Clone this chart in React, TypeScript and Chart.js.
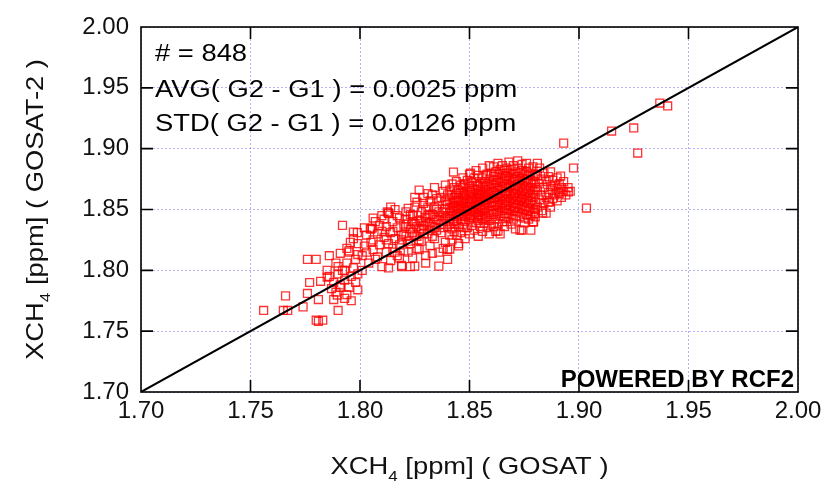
import React, { useEffect, useRef } from "react";
import Chart from "chart.js/auto";

// ---- axis / text content ----
const AXIS_MIN = 1.7;
const AXIS_MAX = 2.0;
const TICK_STEP = 0.05;
const tickValues = [1.75, 1.8, 1.85, 1.9, 1.95];
const statLines = ["# = 848", "AVG( G2 - G1 ) = 0.0025 ppm", "STD( G2 - G1 ) = 0.0126 ppm"];
const creditText = "POWERED BY RCF2";
const xTitleParts = ["XCH", "4", " [ppm] ( GOSAT )"];
const yTitleParts = ["XCH", "4", " [ppm] ( GOSAT-2 )"];
const oneToOneLine = [
  { x: 1.7, y: 1.7 },
  { x: 2.0, y: 2.0 },
];

// ---- matched soundings: [GOSAT, GOSAT-2] XCH4 (ppm) ----
const lowTail: [number, number][] = [
  [1.756, 1.767], [1.765, 1.767], [1.767, 1.767], [1.774, 1.770], [1.766, 1.779], [1.776, 1.781],
  [1.777, 1.790], [1.782, 1.791], [1.776, 1.809], [1.780, 1.809], [1.792, 1.837], [1.780, 1.759],
  [1.783, 1.759], [1.781, 1.758], [1.790, 1.767], [1.781, 1.776], [1.789, 1.806], [1.786, 1.795],
  [1.788, 1.790], [1.790, 1.797], [1.787, 1.785], [1.791, 1.788], [1.793, 1.792], [1.789, 1.782],
  [1.795, 1.786], [1.796, 1.795], [1.792, 1.800], [1.794, 1.780], [1.798, 1.790], [1.797, 1.802],
  [1.799, 1.784], [1.785, 1.800], [1.788, 1.776], [1.793, 1.777], [1.796, 1.775], [1.799, 1.797],
  [1.790, 1.803], [1.794, 1.806], [1.798, 1.809], [1.786, 1.812], [1.791, 1.814], [1.795, 1.816],
  [1.799, 1.813], [1.7956, 1.823], [1.7988, 1.831], [1.797, 1.826], [1.794, 1.818], [1.799, 1.822],
  [1.797, 1.8315], [1.795, 1.815], [1.793, 1.800], [1.7896, 1.7797], [1.791, 1.786], [1.785, 1.7945],
];

const band180: [number, number][] = [
  [1.801, 1.812], [1.802, 1.820], [1.803, 1.829], [1.804, 1.806], [1.805, 1.834], [1.806, 1.817],
  [1.806, 1.825], [1.807, 1.840], [1.808, 1.811], [1.808, 1.830], [1.809, 1.821], [1.810, 1.803],
  [1.810, 1.845], [1.811, 1.827], [1.812, 1.815], [1.812, 1.836], [1.813, 1.847], [1.813, 1.822],
  [1.814, 1.808], [1.814, 1.831], [1.815, 1.840], [1.815, 1.818], [1.816, 1.826], [1.816, 1.850],
  [1.817, 1.812], [1.817, 1.835], [1.818, 1.843], [1.818, 1.821], [1.819, 1.829], [1.819, 1.804],
  [1.820, 1.838], [1.820, 1.816], [1.801, 1.800], [1.803, 1.815], [1.805, 1.823], [1.807, 1.809],
  [1.809, 1.837], [1.811, 1.842], [1.813, 1.802], [1.815, 1.832], [1.817, 1.845], [1.819, 1.825],
  [1.802, 1.835], [1.806, 1.843], [1.810, 1.832], [1.814, 1.852], [1.818, 1.810], [1.820, 1.830],
  [1.812, 1.825], [1.816, 1.815], [1.8056, 1.8348], [1.8125, 1.848], [1.8047, 1.834], [1.813, 1.8471],
];

const band182: [number, number][] = [
  [1.821, 1.828], [1.821, 1.842], [1.822, 1.815], [1.822, 1.851], [1.823, 1.834], [1.823, 1.822],
  [1.824, 1.845], [1.824, 1.810], [1.825, 1.838], [1.825, 1.829], [1.826, 1.856], [1.826, 1.818],
  [1.827, 1.841], [1.827, 1.833], [1.828, 1.848], [1.828, 1.824], [1.829, 1.837], [1.829, 1.860],
  [1.830, 1.812], [1.830, 1.843], [1.831, 1.830], [1.831, 1.852], [1.832, 1.839], [1.832, 1.820],
  [1.833, 1.846], [1.833, 1.862], [1.834, 1.835], [1.834, 1.826], [1.835, 1.850], [1.835, 1.842],
  [1.836, 1.815], [1.836, 1.857], [1.837, 1.838], [1.837, 1.831], [1.838, 1.848], [1.838, 1.865],
  [1.839, 1.843], [1.839, 1.823], [1.840, 1.854], [1.840, 1.836], [1.821, 1.836], [1.822, 1.824],
  [1.823, 1.846], [1.824, 1.831], [1.825, 1.852], [1.826, 1.836], [1.827, 1.825], [1.828, 1.840],
  [1.829, 1.830], [1.830, 1.850], [1.831, 1.838], [1.832, 1.857], [1.833, 1.828], [1.834, 1.844],
  [1.835, 1.833], [1.836, 1.848], [1.837, 1.860], [1.838, 1.840], [1.839, 1.850], [1.840, 1.845],
  [1.822, 1.838], [1.824, 1.840], [1.826, 1.845], [1.828, 1.834], [1.830, 1.840], [1.832, 1.846],
  [1.834, 1.852], [1.836, 1.841], [1.838, 1.835], [1.840, 1.862], [1.823, 1.803], [1.819, 1.803],
  [1.825, 1.8035], [1.836, 1.8035], [1.840, 1.809], [1.830, 1.806], [1.827, 1.817], [1.833, 1.814],
  [1.838, 1.818], [1.840, 1.817], [1.821, 1.848], [1.825, 1.860], [1.829, 1.855], [1.831, 1.845],
  [1.833, 1.836], [1.835, 1.859], [1.837, 1.845], [1.839, 1.857], [1.826, 1.828], [1.832, 1.833],
  [1.827, 1.866], [1.834, 1.868], [1.839, 1.870], [1.831, 1.863],
];

// columns: GOSAT value, then the GOSAT-2 values observed at it
const band184Columns: [number, number[]][] = [
  [1.841, [1.829, 1.842, 1.851, 1.858, 1.866, 1.847, 1.838, 1.8175]],
  [1.842, [1.834, 1.845, 1.855, 1.862, 1.871, 1.849, 1.825]],
  [1.8427, [1.8808, 1.840, 1.853]],
  [1.843, [1.838, 1.852, 1.860, 1.844, 1.868, 1.832, 1.856]],
  [1.844, [1.829, 1.841, 1.848, 1.857, 1.863, 1.873, 1.852]],
  [1.845, [1.836, 1.846, 1.853, 1.860, 1.866, 1.822, 1.850, 1.858, 1.820]],
  [1.846, [1.831, 1.842, 1.851, 1.856, 1.864, 1.870, 1.847]],
  [1.847, [1.838, 1.845, 1.853, 1.861, 1.868, 1.876, 1.857]],
  [1.8475, [1.835, 1.849, 1.863, 1.871]],
  [1.848, [1.826, 1.840, 1.849, 1.855, 1.862, 1.871, 1.844, 1.859]],
  [1.849, [1.835, 1.846, 1.852, 1.858, 1.866, 1.874, 1.850]],
  [1.850, [1.830, 1.842, 1.848, 1.856, 1.861, 1.869, 1.879, 1.853]],
  [1.8505, [1.880, 1.845, 1.864]],
  [1.851, [1.837, 1.845, 1.852, 1.859, 1.864, 1.872, 1.856]],
  [1.852, [1.833, 1.843, 1.850, 1.857, 1.862, 1.867, 1.876, 1.847]],
  [1.853, [1.839, 1.848, 1.854, 1.860, 1.866, 1.873, 1.882, 1.858]],
  [1.8535, [1.844, 1.862, 1.870]],
  [1.854, [1.828, 1.841, 1.851, 1.856, 1.863, 1.869, 1.878, 1.846]],
  [1.855, [1.836, 1.845, 1.853, 1.859, 1.865, 1.871, 1.861, 1.850]],
  [1.856, [1.832, 1.842, 1.849, 1.857, 1.862, 1.868, 1.876, 1.884]],
  [1.857, [1.839, 1.847, 1.854, 1.860, 1.866, 1.873, 1.851, 1.858]],
  [1.8575, [1.843, 1.856, 1.869, 1.878]],
  [1.858, [1.835, 1.844, 1.852, 1.858, 1.864, 1.870, 1.879, 1.861]],
  [1.859, [1.830, 1.841, 1.849, 1.855, 1.862, 1.867, 1.875, 1.886]],
  [1.860, [1.838, 1.846, 1.853, 1.859, 1.865, 1.871, 1.880, 1.856]],
];

const band186Columns: [number, number[]][] = [
  [1.861, [1.836, 1.846, 1.853, 1.859, 1.864, 1.870, 1.877, 1.885]],
  [1.862, [1.842, 1.850, 1.856, 1.862, 1.868, 1.874, 1.881, 1.832]],
  [1.8625, [1.848, 1.860, 1.872]],
  [1.863, [1.838, 1.847, 1.854, 1.860, 1.866, 1.872, 1.879, 1.888, 1.8323]],
  [1.864, [1.845, 1.852, 1.858, 1.863, 1.869, 1.876, 1.883, 1.830]],
  [1.865, [1.840, 1.849, 1.855, 1.861, 1.867, 1.873, 1.880, 1.886]],
  [1.866, [1.844, 1.851, 1.857, 1.863, 1.869, 1.875, 1.882, 1.836]],
  [1.8665, [1.853, 1.865, 1.878]],
  [1.867, [1.847, 1.854, 1.859, 1.865, 1.871, 1.877, 1.884, 1.840]],
  [1.868, [1.843, 1.850, 1.856, 1.862, 1.868, 1.874, 1.880, 1.889]],
  [1.869, [1.846, 1.853, 1.859, 1.864, 1.870, 1.876, 1.883, 1.838]],
  [1.870, [1.842, 1.849, 1.855, 1.861, 1.867, 1.873, 1.879, 1.886]],
  [1.8705, [1.851, 1.863, 1.875]],
  [1.871, [1.845, 1.852, 1.858, 1.863, 1.869, 1.875, 1.881, 1.834]],
  [1.872, [1.848, 1.854, 1.860, 1.866, 1.871, 1.877, 1.884, 1.890]],
  [1.873, [1.844, 1.851, 1.857, 1.862, 1.868, 1.874, 1.880, 1.833]],
  [1.8738, [1.8331, 1.859]],
  [1.874, [1.847, 1.853, 1.859, 1.865, 1.870, 1.876, 1.882, 1.887]],
  [1.875, [1.843, 1.850, 1.856, 1.861, 1.867, 1.873, 1.879, 1.839]],
  [1.876, [1.846, 1.852, 1.858, 1.864, 1.869, 1.875, 1.881, 1.888]],
  [1.877, [1.849, 1.855, 1.860, 1.866, 1.872, 1.878, 1.884, 1.842]],
  [1.878, [1.845, 1.851, 1.857, 1.863, 1.868, 1.874, 1.880, 1.833]],
  [1.879, [1.848, 1.854, 1.860, 1.865, 1.871, 1.877, 1.885, 1.840]],
  [1.880, [1.844, 1.850, 1.856, 1.862, 1.868, 1.873, 1.879, 1.847]],
];

const band188: [number, number][] = [
  [1.881, 1.852], [1.881, 1.866], [1.881, 1.878], [1.882, 1.858], [1.882, 1.871], [1.882, 1.884],
  [1.883, 1.849], [1.883, 1.862], [1.883, 1.875], [1.884, 1.855], [1.884, 1.868], [1.884, 1.880],
  [1.885, 1.847], [1.885, 1.860], [1.885, 1.873], [1.886, 1.864], [1.886, 1.877], [1.886, 1.856],
  [1.887, 1.852], [1.887, 1.869], [1.887, 1.881], [1.888, 1.859], [1.888, 1.866], [1.888, 1.874],
  [1.889, 1.862], [1.889, 1.870], [1.890, 1.857], [1.890, 1.867], [1.890, 1.876], [1.891, 1.863],
  [1.891, 1.871], [1.892, 1.860], [1.892, 1.868], [1.893, 1.865], [1.893, 1.873], [1.894, 1.862],
  [1.895, 1.868], [1.896, 1.865], [1.8793, 1.8397], [1.8834, 1.8471], [1.8866, 1.8562],
  [1.8916, 1.8775], [1.8951, 1.8644], [1.881, 1.888], [1.8907, 1.8644],
];

const highOutliers: [number, number][] = [
  [1.9369, 1.9375], [1.9405, 1.9351], [1.9149, 1.9145], [1.925, 1.917], [1.9268, 1.8964],
  [1.893, 1.9046], [1.9034, 1.8512], [1.8975, 1.8841],
];

function columnsToPairs(cols: [number, number[]][]): [number, number][] {
  return cols.flatMap(([x, ys]) => ys.map((y) => [x, y] as [number, number]));
}

const FONT = '"Liberation Sans", Arial, Helvetica, sans-serif';

function drawParts(ctx: CanvasRenderingContext2D, parts: string[], size: number, subSize: number) {
  let x = 0;
  parts.forEach((p, i) => {
    const isSub = i === 1;
    ctx.font = `${isSub ? subSize : size}px ${FONT}`;
    ctx.fillText(p, x, isSub ? size * 0.28 : 0);
    x += ctx.measureText(p).width;
  });
  return x;
}

function partsWidth(ctx: CanvasRenderingContext2D, parts: string[], size: number, subSize: number) {
  let w = 0;
  parts.forEach((p, i) => {
    ctx.font = `${i === 1 ? subSize : size}px ${FONT}`;
    w += ctx.measureText(p).width;
  });
  return w;
}

const decorPlugin = {
  id: "decor",
  afterDatasetsDraw(chart: any) {
    const { ctx, chartArea: a, scales } = chart;
    ctx.save();
    ctx.strokeStyle = "#000";
    ctx.lineWidth = 1.6;
    ctx.strokeRect(a.left, a.top, a.right - a.left, a.bottom - a.top);
    const len = 12;
    ctx.beginPath();
    tickValues.forEach((v) => {
      const px = scales.x.getPixelForValue(v);
      ctx.moveTo(px, a.bottom);
      ctx.lineTo(px, a.bottom - len);
      ctx.moveTo(px, a.top);
      ctx.lineTo(px, a.top + len);
      const py = scales.y.getPixelForValue(v);
      ctx.moveTo(a.left, py);
      ctx.lineTo(a.left + len, py);
      ctx.moveTo(a.right, py);
      ctx.lineTo(a.right - len, py);
    });
    ctx.stroke();
    ctx.restore();
  },
  afterDraw(chart: any) {
    const { ctx, chartArea: a } = chart;
    ctx.save();
    ctx.fillStyle = "#000";
    ctx.textBaseline = "alphabetic";
    // statistics block
    ctx.font = `23px ${FONT}`;
    ctx.textAlign = "left";
    const baselines = [61, 97, 131];
    statLines.forEach((t, i) => {
      ctx.save();
      ctx.translate(a.left + 14, baselines[i]);
      ctx.scale(1.19, 1);
      ctx.fillText(t, 0, 0);
      ctx.restore();
    });
    // credit
    ctx.font = `bold 24px ${FONT}`;
    ctx.textAlign = "right";
    ctx.fillText(creditText, a.right - 4, a.bottom - 5);
    ctx.fillStyle = "#111";
    ctx.textAlign = "left";
    // x title
    const size = 24;
    const sub = 15;
    const sx = 1.14;
    const wx = partsWidth(ctx, xTitleParts, size, sub) * sx;
    ctx.save();
    ctx.translate((a.left + a.right) / 2 - wx / 2, 474);
    ctx.scale(sx, 1);
    drawParts(ctx, xTitleParts, size, sub);
    ctx.restore();
    // y title
    const wy = partsWidth(ctx, yTitleParts, size, sub) * sx;
    ctx.save();
    ctx.translate(43, (a.top + a.bottom) / 2 + wy / 2);
    ctx.rotate(-Math.PI / 2);
    ctx.scale(sx, 1);
    drawParts(ctx, yTitleParts, size, sub);
    ctx.restore();
    ctx.restore();
  },
};

export default function App() {
  const ref = useRef<HTMLCanvasElement>(null);
  useEffect(() => {
    document.body.style.margin = "0";
    const canvas = ref.current!;
    const points = [
      ...lowTail,
      ...band180,
      ...band182,
      ...columnsToPairs(band184Columns),
      ...columnsToPairs(band186Columns),
      ...band188,
      ...highOutliers,
    ].map(([x, y]) => ({ x, y }));

    const axisCommon = (isX: boolean) => ({
      type: "linear" as const,
      min: AXIS_MIN,
      max: AXIS_MAX,
      ticks: {
        stepSize: TICK_STEP,
        autoSkip: false,
        maxRotation: 0,
        minRotation: 0,
        padding: isX ? 5 : 12,
        color: "#111",
        font: { family: FONT, size: 24 },
        callback: (v: any) => Number(v).toFixed(2),
      },
      grid: { color: "rgba(130,130,240,0.6)", lineWidth: 1, drawTicks: false },
      border: { display: false, dash: [2, 2] },
      afterFit: (s: any) => {
        if (isX) s.height = 100;
        else s.width = 141;
      },
    });

    const chart = new Chart(canvas, {
      type: "scatter",
      data: {
        datasets: [
          {
            type: "line",
            data: oneToOneLine,
            borderColor: "#000",
            borderWidth: 2,
            pointRadius: 0,
            order: 0,
          } as any,
          {
            data: points,
            pointStyle: "rect",
            pointRadius: 5.6,
            borderColor: "rgba(255,0,0,0.8)",
            borderWidth: 1.3,
            backgroundColor: "rgba(0,0,0,0)",
            order: 1,
          },
        ],
      },
      options: {
        responsive: false,
        animation: false,
        events: [],
        layout: { padding: { top: 27, right: 37, left: 0, bottom: 0 } },
        plugins: { legend: { display: false }, tooltip: { enabled: false } },
        scales: { x: axisCommon(true), y: axisCommon(false) } as any,
      },
      plugins: [decorPlugin],
    });
    return () => chart.destroy();
  }, []);
  return (
    <div style={{ width: 835, height: 492, background: "#fff" }}>
      <canvas ref={ref} width={835} height={492} style={{ display: "block" }} />
    </div>
  );
}
